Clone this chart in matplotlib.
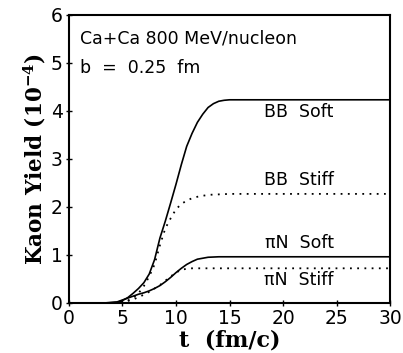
import matplotlib
matplotlib.use("Agg")
import matplotlib.pyplot as plt

# time axis points (fm/c) and kaon yields (units of 1e-4)
t_bb_soft = [3.5, 4.5, 5.0, 5.5, 6.0, 6.5, 7.0, 7.5, 8.0, 8.5, 9.0, 9.5, 10.0,
             10.5, 11.0, 11.5, 12.0, 12.5, 13.0, 13.5, 14.0, 14.5, 15.0, 30.0]
y_bb_soft = [0.0, 0.01, 0.05, 0.11, 0.2, 0.3, 0.42, 0.6, 0.9, 1.35, 1.7, 2.08, 2.47,
             2.88, 3.26, 3.53, 3.76, 3.93, 4.07, 4.15, 4.2, 4.22, 4.23, 4.23]

t_bb_stiff = [3.5, 4.5, 5.0, 5.5, 6.0, 6.5, 7.0, 7.5, 8.0, 8.5, 9.0, 9.5, 10.0,
              10.5, 11.0, 11.5, 12.0, 13.0, 14.0, 15.0, 30.0]
y_bb_stiff = [0.0, 0.0, 0.02, 0.05, 0.1, 0.2, 0.35, 0.55, 0.8, 1.2, 1.55, 1.76, 1.95,
              2.06, 2.13, 2.18, 2.21, 2.25, 2.26, 2.27, 2.27]

t_pin_soft = [3.5, 4.5, 5.0, 5.5, 6.0, 6.5, 7.0, 7.5, 8.0, 8.5, 9.0, 9.5, 10.0,
              10.5, 11.0, 11.5, 12.0, 12.5, 13.0, 14.0, 15.0, 30.0]
y_pin_soft = [0.0, 0.02, 0.06, 0.1, 0.14, 0.18, 0.21, 0.25, 0.3, 0.36, 0.44, 0.53, 0.63,
              0.72, 0.8, 0.86, 0.91, 0.93, 0.95, 0.96, 0.96, 0.96]

t_pin_stiff = [3.5, 4.5, 5.0, 5.5, 6.0, 6.5, 7.0, 7.5, 8.0, 8.5, 9.0, 9.5, 10.0,
               10.5, 11.0, 11.5, 12.0, 13.0, 15.0, 30.0]
y_pin_stiff = [0.0, 0.0, 0.02, 0.04, 0.07, 0.12, 0.17, 0.23, 0.3, 0.37, 0.46, 0.55, 0.63,
               0.69, 0.71, 0.72, 0.72, 0.72, 0.72, 0.72]

curve_labels = ["BB  Soft", "BB  Stiff", "πN  Soft", "πN  Stiff"]
label_y = [3.87, 2.46, 1.14, 0.38]

plt.rcParams["mathtext.fontset"] = "dejavuserif"

fig = plt.figure(figsize=(4.03, 3.53), dpi=100)
ax = fig.add_axes([0.171, 0.142, 0.797, 0.816])

dotted = (0, (1, 3))
ax.plot(t_bb_soft, y_bb_soft, color="black", lw=1.2)
ax.plot(t_bb_stiff, y_bb_stiff, color="black", lw=1.3, ls=dotted)
ax.plot(t_pin_soft, y_pin_soft, color="black", lw=1.2)
ax.plot(t_pin_stiff, y_pin_stiff, color="black", lw=1.3, ls=dotted)

for lab, yy in zip(curve_labels, label_y):
    ax.text(21.5, yy, lab, ha="center", va="baseline", fontsize=12.5)

ax.text(1.0, 5.40, "Ca+Ca 800 MeV/nucleon", fontsize=12.5, va="baseline")
ax.text(1.0, 4.78, "b  =  0.25  fm", fontsize=12.5, va="baseline")

ax.set_xlim(0, 30)
ax.set_ylim(0, 6)
ax.set_xticks([0, 5, 10, 15, 20, 25, 30])
ax.set_yticks([0, 1, 2, 3, 4, 5, 6])
ax.tick_params(direction="inout", length=5, width=1, labelsize=13.5, pad=2)
for sp in ax.spines.values():
    sp.set_linewidth(1.5)

ax.set_xlabel("t  (fm/c)", fontsize=16, fontfamily="DejaVu Serif",
              fontweight="bold", labelpad=1)
ax.set_ylabel(r"Kaon Yield (10$^{\mathbf{-4}}$)", fontsize=15.5, fontfamily="DejaVu Serif",
              fontweight="bold", labelpad=2)

fig.savefig("out.png", dpi=100, facecolor="white")
